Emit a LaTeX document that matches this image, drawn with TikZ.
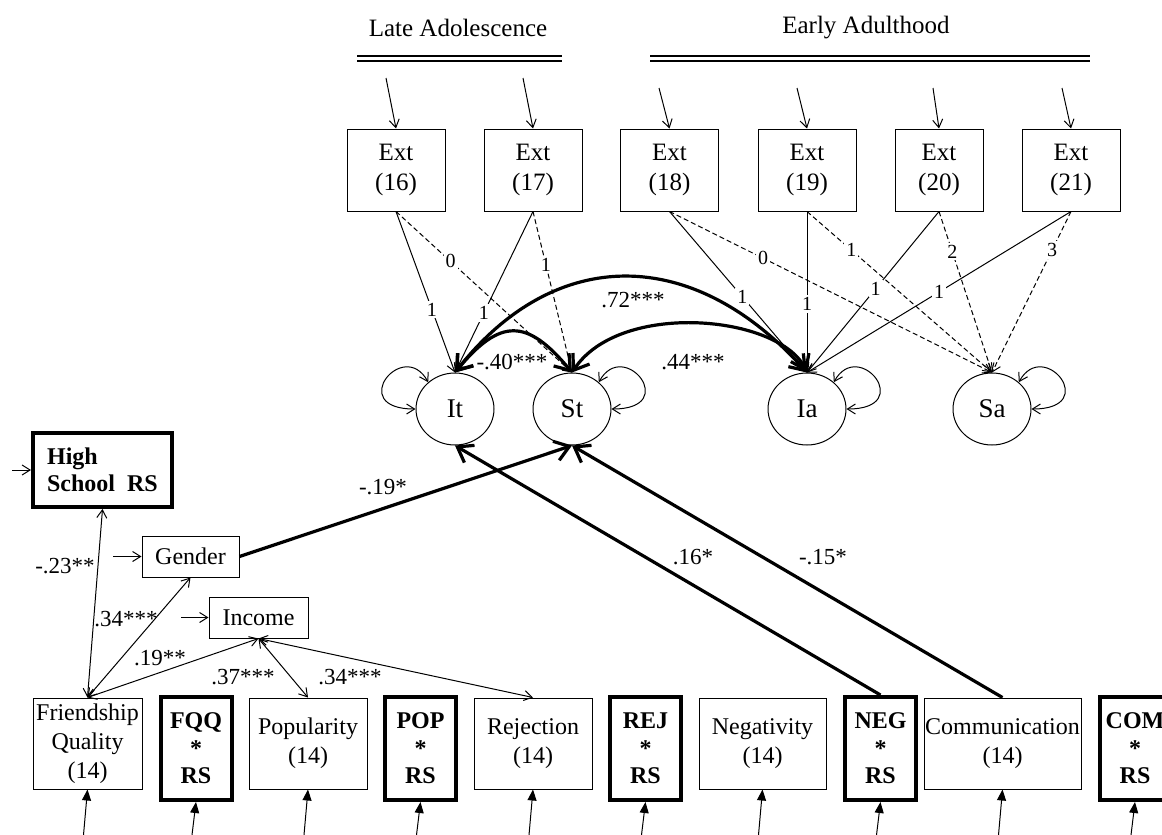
\documentclass[tikz,border=0pt]{standalone}
\usepackage{fontspec}
\setmainfont{Liberation Serif}
\usetikzlibrary{arrows.meta,shapes.geometric,calc}

\tikzset{
  obs/.style={draw, line width=0.5pt, inner sep=0pt, align=center, minimum height=45.5pt, font=\fontsize{12}{14.5}\selectfont},
  prod/.style={draw, line width=2pt, inner sep=0pt, align=center, minimum width=35.5pt, minimum height=51.5pt, font=\fontsize{12}{13.75}\selectfont\bfseries},
  ext/.style={obs, minimum width=49pt, minimum height=41pt, font=\fontsize{12.5}{15}\selectfont},
  lat/.style={draw, ellipse, line width=0.5pt, inner sep=0pt, minimum width=39pt, minimum height=36pt, font=\fontsize{13.5}{15}\selectfont},
  ld/.style={fill=white, inner sep=1pt, font=\fontsize{10}{11}\selectfont},
  coef/.style={inner sep=0pt, font=\fontsize{11.5}{13}\selectfont},
  errarr/.style={line width=0.5pt, -{Straight Barb[length=4pt,width=5pt]}},
  dbl/.style={line width=0.5pt, {Straight Barb[length=4pt,width=5pt]}-{Straight Barb[length=4pt,width=5pt]}},
  fixld/.style={line width=0.5pt, -{Straight Barb[length=4pt,width=5pt]}},
  freeld/.style={fixld, dash pattern=on 2.5pt off 1.5pt},
  cov/.style={line width=1.6pt, {Straight Barb[length=7pt,width=10pt]}-{Straight Barb[length=7pt,width=10pt]}},
  reg/.style={line width=1.6pt, -{Straight Barb[length=7pt,width=10pt]}},
  errf/.style={line width=0.5pt, -{Triangle[length=5.5pt,width=4.5pt]}},
}

\begin{document}
\begin{tikzpicture}[x=0.5pt, y=-0.5pt]
  \useasboundingbox (0,0) rectangle (1162,835);

  \node[font=\fontsize{12.5}{15}\selectfont] (late) at (458,28) {Late Adolescence};
  \node[font=\fontsize{12.5}{15}\selectfont] (early) at (866,28) {Early Adulthood};
  \draw[line width=1pt] (357,56) -- (562,56);
  \draw[line width=0.6pt] (357,61) -- (562,61);
  \draw[line width=1pt] (650,56) -- (1090,56);
  \draw[line width=0.6pt] (650,61) -- (1090,61);

  \foreach \n/\x/\w in {16/396/49pt, 17/533/49pt, 18/669.5/49pt, 19/807/49pt, 20/939/44pt, 21/1071/49pt}
    \node[ext, minimum width=\w] (x\n) at (\x,170) {Ext\\(\n)};
  \foreach \n/\x/\y in {16/386/78, 17/523/78, 18/659/88, 19/797/88, 20/933/88, 21/1062/88} {
    \coordinate (u\n) at (\x,\y);
    \draw[errarr] (u\n) -- (x\n.north);
  }

  \node[lat] (It) at (455,409) {It};
  \node[lat] (St) at (572,409) {St};
  \node[lat] (Ia) at (807,409) {Ia};
  \node[lat] (Sa) at (992,409) {Sa};

  \draw[dbl] (It.135) .. controls +(-25,-45) and +(-70,0) .. (It.west);
  \draw[dbl] (St.45) .. controls +(25,-45) and +(70,0) .. (St.east);
  \draw[dbl] (Ia.45) .. controls +(25,-45) and +(70,0) .. (Ia.east);
  \draw[dbl] (Sa.45) .. controls +(25,-45) and +(70,0) .. (Sa.east);

  \draw[cov] (It.north) .. controls (555,245) and (693,245) .. (Ia.north);
  \draw[cov] (St.north) .. controls (620,300) and (780,315) .. (Ia.north);
  \draw[cov] (It.north) .. controls (500,318) and (527,318) .. (St.north);
  \node[coef] (r1) at (633,300) {.72***};
  \node[coef] (r2) at (693,362) {.44***};
  \node[coef] (r3) at (512,362) {-.40***};

  \draw[freeld] (x16.south) -- node[ld, pos=.31] {0} (St.north);
  \draw[freeld] (x17.south) -- node[ld, pos=.33] {1} (St.north);
  \draw[fixld] (x16.south) -- node[ld, pos=.61] {1} (It.north);
  \draw[fixld] (x17.south) -- node[ld, pos=.63] {1} (It.north);
  \draw[freeld] (x18.south) -- node[ld, pos=.29] {0} (Sa.north);
  \draw[freeld] (x19.south) -- node[ld, pos=.24] {1} (Sa.north);
  \draw[freeld] (x20.south) -- node[ld, pos=.25] {2} (Sa.north);
  \draw[freeld] (x21.south) -- node[ld, pos=.24] {3} (Sa.north);
  \draw[fixld] (x18.south) -- node[ld, pos=.53] {1} (Ia.north);
  \draw[fixld] (x19.south) -- node[ld, pos=.575] {1} (Ia.north);
  \draw[fixld] (x20.south) -- node[ld, pos=.48] {1} (Ia.north);
  \draw[fixld] (x21.south) -- node[ld, pos=.5] {1} (Ia.north);

  \node[prod, align=left, minimum width=69.5pt, minimum height=37pt] (hs) at (102.5,470) {High\\School\ \ RS};
  \node[obs, minimum width=48.5pt, minimum height=20.5pt] (gen) at (190.5,556.5) {Gender};
  \node[obs, minimum width=49.5pt, minimum height=20.5pt] (inc) at (258.5,617.5) {Income};
  \coordinate (ehs) at (12,470);
  \coordinate (egen) at (113,556.5);
  \coordinate (einc) at (181,617.5);
  \draw[errarr] (ehs) -- (hs.west);
  \draw[errarr] (egen) -- (gen.west);
  \draw[errarr] (einc) -- (inc.west);

  \node[obs, minimum width=54.5pt] (fq) at (87.5,743.5) {Friendship\\Quality\\(14)};
  \node[prod] (fqq) at (196,748.5) {FQQ\\*\\RS};
  \node[obs, minimum width=59pt] (pop) at (308,743.5) {Popularity\\(14)};
  \node[prod] (popx) at (420.5,748.5) {POP\\*\\RS};
  \node[obs, minimum width=59pt] (rej) at (533,743.5) {Rejection\\(14)};
  \node[prod] (rejx) at (645.5,748.5) {REJ\\*\\RS};
  \node[obs, minimum width=63.5pt] (neg) at (762.5,743.5) {Negativity\\(14)};
  \node[prod] (negx) at (880.5,748.5) {NEG\\*\\RS};
  \node[obs, minimum width=78.5pt] (com) at (1002.5,743.5) {Communication\\(14)};
  \node[prod] (comx) at (1135,748.5) {COM\\*\\RS};
  \foreach \n in {fq,fqq,pop,popx,rej,rejx,neg,negx,com,comx}
    \draw[errf] ($(\n.south |- 0,835)+(-4,0)$) -- (\n.south);

  \draw[dbl] (fq.north) -- (hs.south);
  \draw[dbl] (fq.north) -- (gen.south);
  \draw[dbl] (fq.north) -- (inc.south);
  \draw[dbl] (inc.south) -- (pop.north);
  \draw[dbl] (inc.south) -- (rej.north);
  \node[coef] (c1) at (65,566) {-.23**};
  \node[coef] (c2) at (126,619) {.34***};
  \node[coef] (c3) at (160,658) {.19**};
  \node[coef] (c4) at (243,677) {.37***};
  \node[coef] (c5) at (350,677) {.34***};

  \draw[reg] (gen.east) -- (St.south);
  \draw[reg] (negx.north) -- (It.south);
  \draw[reg] (com.north) -- (St.south);
  \node[coef] (b1) at (383,487) {-.19*};
  \node[coef] (b2) at (693,557) {.16*};
  \node[coef] (b3) at (823,557) {-.15*};
\end{tikzpicture}
\end{document}
